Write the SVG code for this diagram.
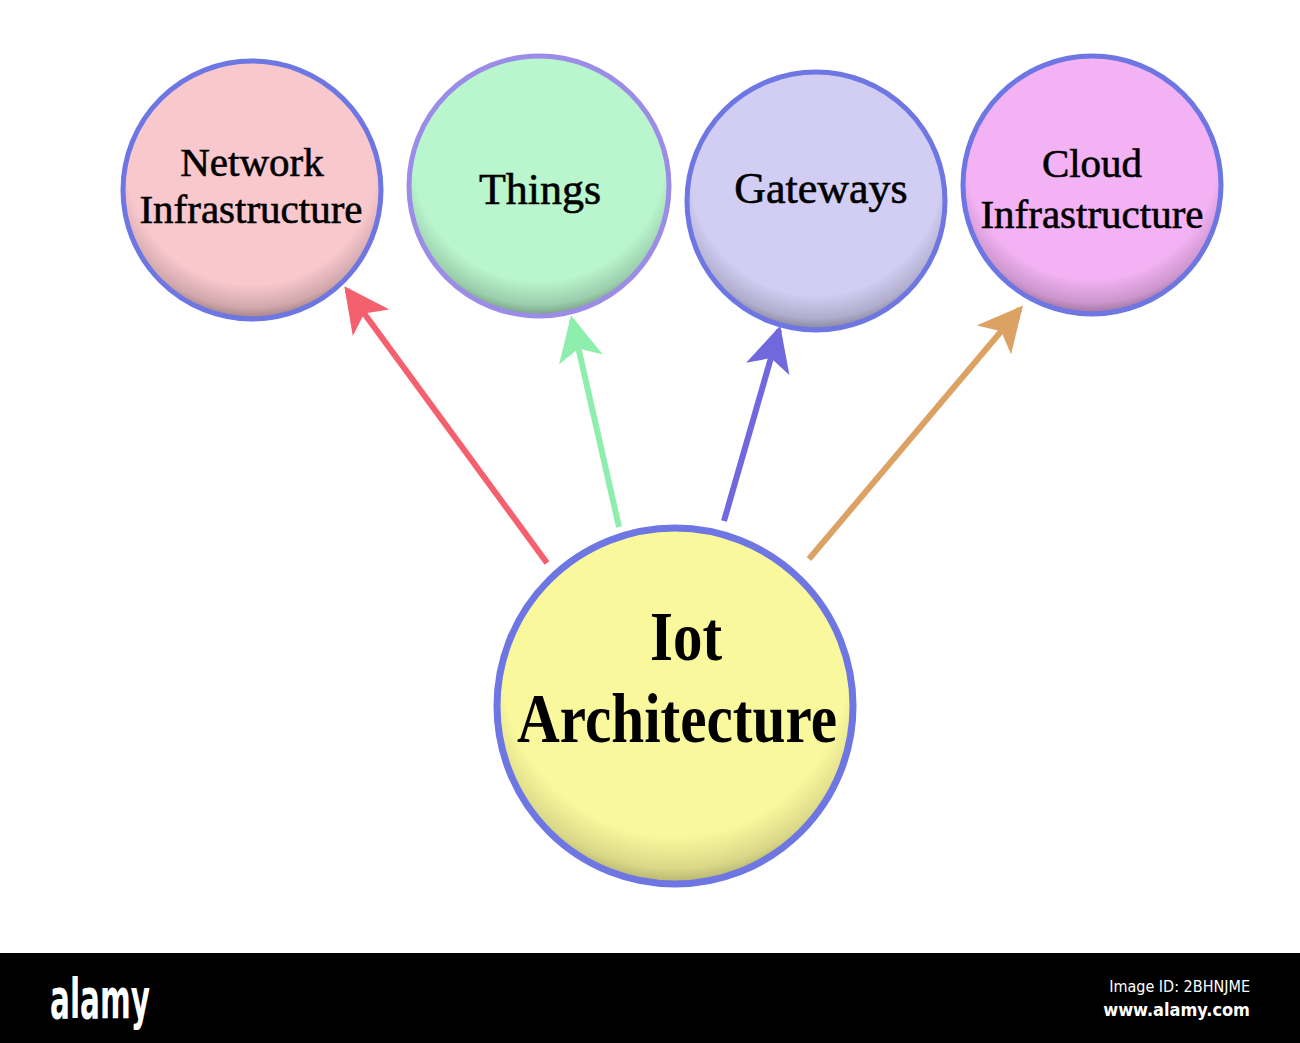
<svg xmlns="http://www.w3.org/2000/svg" width="1300" height="1043" viewBox="0 0 1300 1043">
<defs>
<radialGradient id="shade" cx="0.5" cy="0.38" r="0.64">
<stop offset="0.76" stop-color="#000" stop-opacity="0"/>
<stop offset="0.9" stop-color="#000" stop-opacity="0.16"/>
<stop offset="1" stop-color="#000" stop-opacity="0.45"/>
</radialGradient>
<marker id="ar-red" viewBox="0 0 10 10" refX="9" refY="5" markerWidth="7.5" markerHeight="7.5" markerUnits="strokeWidth" orient="auto"><path d="M0,0 L10,5 L0,10 L2.5,5 Z" fill="#f4606e"/></marker>
<marker id="ar-green" viewBox="0 0 10 10" refX="9" refY="5" markerWidth="7.5" markerHeight="7.5" markerUnits="strokeWidth" orient="auto"><path d="M0,0 L10,5 L0,10 L2.5,5 Z" fill="#8eeeae"/></marker>
<marker id="ar-blue" viewBox="0 0 10 10" refX="9" refY="5" markerWidth="7.5" markerHeight="7.5" markerUnits="strokeWidth" orient="auto"><path d="M0,0 L10,5 L0,10 L2.5,5 Z" fill="#7068dc"/></marker>
<marker id="ar-orange" viewBox="0 0 10 10" refX="9" refY="5" markerWidth="7.5" markerHeight="7.5" markerUnits="strokeWidth" orient="auto"><path d="M0,0 L10,5 L0,10 L2.5,5 Z" fill="#dca264"/></marker>
</defs>
<style>
.ring{stroke:#6d76e2;stroke-width:5}
.lbl{font-family:"Liberation Serif","Times New Roman",serif;fill:#000;text-anchor:middle}
.small{font-size:41px;stroke:#000;stroke-width:0.6}
.big{font-size:44px;stroke:#000;stroke-width:0.6}
.main{font-size:70px;font-weight:bold}
.conn{fill:none;stroke-width:6}
</style>
<rect width="1300" height="1043" fill="#fff"/>
<g id="connectors">
<line class="conn" x1="547" y1="563" x2="347" y2="290" stroke="#f4606e" marker-end="url(#ar-red)"/>
<line class="conn" x1="619" y1="527" x2="572" y2="320" stroke="#8eeeae" marker-end="url(#ar-green)"/>
<line class="conn" x1="724" y1="521" x2="779" y2="330" stroke="#7068dc" marker-end="url(#ar-blue)"/>
<line class="conn" x1="809" y1="559" x2="1020" y2="309" stroke="#dca264" marker-end="url(#ar-orange)"/>
</g>
<g id="network">
<circle cx="252" cy="190" r="129" fill="#f9c8cd"/>
<circle cx="252" cy="190" r="129" fill="url(#shade)"/>
<circle class="ring" cx="252" cy="190" r="129" fill="none"/>
<text class="lbl small" x="252" y="176">Network</text>
<text class="lbl small" x="251" y="223">Infrastructure</text>
</g>
<g id="things">
<circle cx="539" cy="186" r="130" fill="#b9f5cd"/>
<circle cx="539" cy="186" r="130" fill="url(#shade)"/>
<circle class="ring" cx="539" cy="186" r="130" fill="none" style="stroke:#9b8ce8"/>
<text class="lbl big" x="540" y="204">Things</text>
</g>
<g id="gateways">
<circle cx="816" cy="201" r="129" fill="#d1cdf3"/>
<circle cx="816" cy="201" r="129" fill="url(#shade)"/>
<circle class="ring" cx="816" cy="201" r="129" fill="none"/>
<text class="lbl big" x="821" y="203">Gateways</text>
</g>
<g id="cloud">
<circle cx="1092" cy="185" r="129" fill="#f3b2f4"/>
<circle cx="1092" cy="185" r="129" fill="url(#shade)"/>
<circle class="ring" cx="1092" cy="185" r="129" fill="none"/>
<text class="lbl small" x="1092" y="177">Cloud</text>
<text class="lbl small" x="1092" y="228">Infrastructure</text>
</g>
<g id="iot">
<circle cx="675" cy="706" r="178" fill="#faf89c"/>
<circle cx="675" cy="706" r="178" fill="url(#shade)" opacity="0.8"/>
<circle class="ring" cx="675" cy="706" r="178" fill="none" style="stroke-width:7"/>
<text class="lbl main" x="686" y="660" textLength="72" lengthAdjust="spacingAndGlyphs">Iot</text>
<text class="lbl main" x="677" y="742" textLength="320" lengthAdjust="spacingAndGlyphs">Architecture</text>
</g>
<g id="footer">
<rect x="0" y="953" width="1300" height="90" fill="#000"/>
<text x="50" y="1018" font-family="'DejaVu Sans Condensed','DejaVu Sans',sans-serif" font-weight="bold" font-size="56" fill="#fff" textLength="100" lengthAdjust="spacingAndGlyphs">alamy</text>
<text x="1250" y="992" font-family="'DejaVu Sans Condensed','DejaVu Sans',sans-serif" font-size="16" fill="#fff" text-anchor="end">Image ID: 2BHNJME</text>
<text x="1250" y="1016" font-family="'DejaVu Sans Condensed','DejaVu Sans',sans-serif" font-weight="bold" font-size="18" fill="#fff" text-anchor="end">www.alamy.com</text>
</g>
</svg>
